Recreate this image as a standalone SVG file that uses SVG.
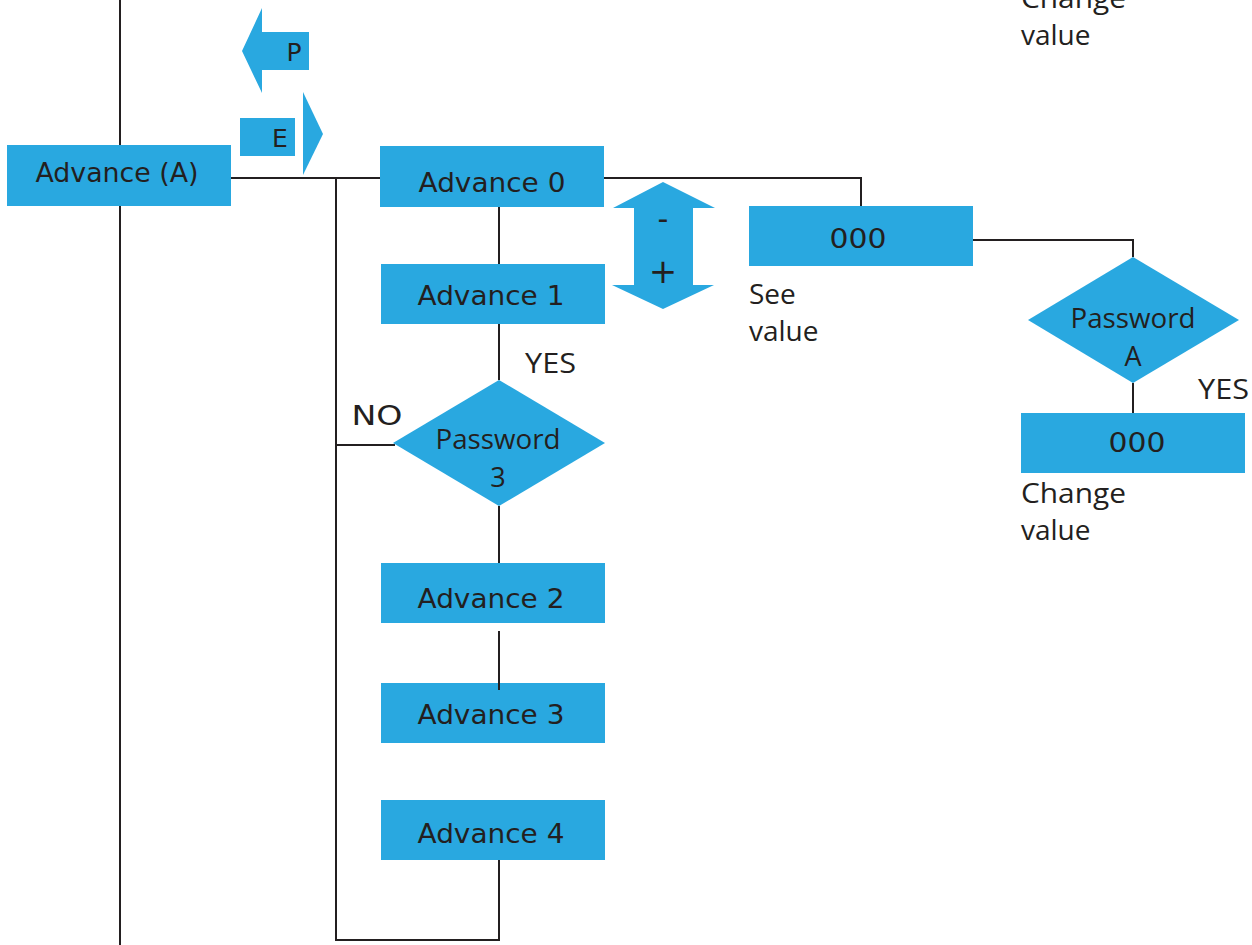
<svg xmlns="http://www.w3.org/2000/svg" width="1252" height="945" viewBox="0 0 1252 945">
<style>
.box{fill:#29a8e0}
.ln{stroke:#231f20;stroke-width:2;fill:none}
.lbl{font-family:"DejaVu Sans",sans-serif;font-size:27px;fill:#231f20;text-anchor:middle}
.txt{font-family:"Open Sans","DejaVu Sans",sans-serif;font-size:28px;fill:#231f20}
.dia{font-family:"Open Sans","DejaVu Sans",sans-serif;font-size:27px;fill:#231f20;text-anchor:middle}
.sym{font-family:"DejaVu Sans",sans-serif;fill:#231f20;text-anchor:middle}
</style>
<rect width="1252" height="945" fill="#fff"/>
<g id="connectors">
<line class="ln" x1="120" y1="0" x2="120" y2="945"/>
<polyline class="ln" points="231,178 380,178"/>
<polyline class="ln" points="336,178 336,940 499,940 499,860"/>
<polyline class="ln" points="604,178 861,178 861,206"/>
<polyline class="ln" points="973,240 1133,240 1133,257"/>
<line class="ln" x1="1133" y1="383" x2="1133" y2="413"/>
<line class="ln" x1="499" y1="207" x2="499" y2="264"/>
<line class="ln" x1="499" y1="324" x2="499" y2="380"/>
<line class="ln" x1="336" y1="445" x2="395" y2="445"/>
<line class="ln" x1="499" y1="506" x2="499" y2="563"/>
</g>
<g id="advA"><rect class="box" x="7" y="145" width="224" height="61"/><text class="lbl" x="117" y="182" textLength="163" lengthAdjust="spacingAndGlyphs">Advance (A)</text></g>
<g id="keyP"><path class="box" d="M262,32H309V70H262V93L242,51L262,8Z"/><text class="sym" x="294" y="61" font-size="25">P</text></g>
<g id="keyE"><rect class="box" x="240" y="118" width="55" height="38"/><path class="box" d="M303,92L323,134L303,175Z"/><text class="sym" x="280" y="147" font-size="25">E</text></g>
<g id="adv0"><rect class="box" x="380" y="146" width="224" height="61"/><text class="lbl" x="492" y="192" textLength="147" lengthAdjust="spacingAndGlyphs">Advance 0</text></g>
<g id="adv1"><rect class="box" x="381" y="264" width="224" height="60"/><text class="lbl" x="491" y="305" textLength="147" lengthAdjust="spacingAndGlyphs">Advance 1</text></g>
<g id="updown"><path class="box" d="M663,182L715,208H693V285H714L663,309L612,285H634V208H613Z"/><text class="sym" x="663" y="229" font-size="30">-</text><text class="sym" x="663" y="283" font-size="34">+</text></g>
<g id="val1"><rect class="box" x="749" y="206" width="224" height="60"/><text class="lbl" x="858" y="248" textLength="57" lengthAdjust="spacingAndGlyphs">000</text></g>
<g id="seeval"><text class="txt" x="749" y="304">See</text><text class="txt" x="749" y="341">value</text></g>
<g id="pwA"><path class="box" d="M1133,257L1239,320L1133,383L1028,320Z"/><text class="dia" x="1133" y="328" textLength="125" lengthAdjust="spacingAndGlyphs">Password</text><text class="dia" x="1133" y="366">A</text></g>
<g id="yesA"><text class="txt" x="1198" y="399" textLength="51" lengthAdjust="spacingAndGlyphs">YES</text></g>
<g id="val2"><rect class="box" x="1021" y="413" width="224" height="60"/><text class="lbl" x="1137" y="452" textLength="57" lengthAdjust="spacingAndGlyphs">000</text></g>
<g id="chg1"><text class="txt" x="1021" y="503" textLength="105" lengthAdjust="spacingAndGlyphs">Change</text><text class="txt" x="1021" y="540">value</text></g>
<g id="chg0"><text class="txt" x="1021" y="8" textLength="105" lengthAdjust="spacingAndGlyphs">Change</text><text class="txt" x="1021" y="45">value</text></g>
<g id="pw3"><path class="box" d="M499,380L605,443L499,506L393,443Z"/><text class="dia" x="498" y="449" textLength="125" lengthAdjust="spacingAndGlyphs">Password</text><text class="dia" x="498" y="487">3</text></g>
<g id="yes3"><text class="txt" x="525" y="373" textLength="51" lengthAdjust="spacingAndGlyphs">YES</text></g>
<g id="no3"><text class="lbl" x="377" y="425" textLength="51" lengthAdjust="spacingAndGlyphs">NO</text></g>
<g id="adv2"><rect class="box" x="381" y="563" width="224" height="60"/><text class="lbl" x="491" y="608" textLength="147" lengthAdjust="spacingAndGlyphs">Advance 2</text></g>
<g id="adv3"><rect class="box" x="381" y="683" width="224" height="60"/><text class="lbl" x="491" y="724" textLength="147" lengthAdjust="spacingAndGlyphs">Advance 3</text></g>
<line class="ln" x1="499" y1="631" x2="499" y2="690"/>
<g id="adv4"><rect class="box" x="381" y="800" width="224" height="60"/><text class="lbl" x="491" y="843" textLength="147" lengthAdjust="spacingAndGlyphs">Advance 4</text></g>
</svg>
